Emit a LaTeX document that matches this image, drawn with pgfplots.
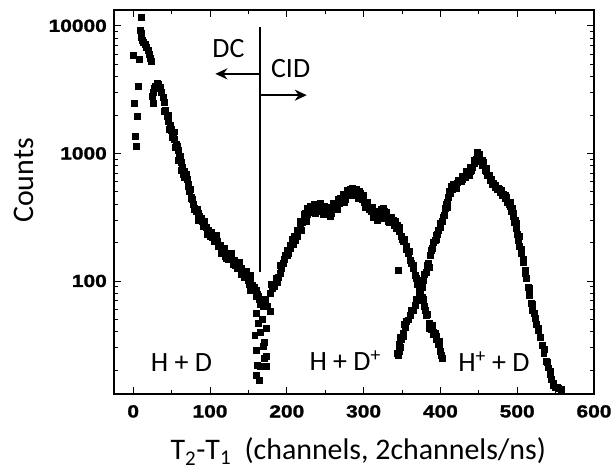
\documentclass[border=0pt]{standalone}
\usepackage{fontspec}
\setmainfont{Carlito}
\newfontfamily\tickfont[FakeStretch=1.2, BoldFeatures={FakeBold=1.5}]{Liberation Sans}
\usepackage{pgfplots}
\pgfplotsset{compat=1.18}
\usetikzlibrary{arrows.meta}

% dissociation (DC) peak and valley
\pgfplotstableread{
x y
0 5890
7.8 5460
6.5 3370
1 2470
5.2 1960
2.2 1370
3.5 1130
26 2470
25 2820
10.4 11750
8.7 9250
10 8710
11 8130
12 7760
13.5 7410
15 7160
17 6850
19 6460
21 6030
22.5 5620
24 5250
26 3020
27.5 3240
29 3390
31 3550
33 3510
35 3310
37 3020
38.5 2750
40 2510
42 2190
44 1950
46 1780
48 1660
50 1550
52 1450
54 1290
56 1175
58 1050
60 933
62 851
64 776
66 724
68 676
70 631
72 575
74 525
76 457
78 398
80 372
82 355
84 339
86 324
88 309
90 295
92 282
95 263
98 251
101 240
104 229
107 214
110 204
113 191
116 178
119 170
122 162
125 158
128 151
131 145
134 138
137 132
140 126
143 120
146 115
149 107
152 100
155 93
158 87
161 79
164 72
166 66
45 1995
49 1514
53 1479
57 1148
61 955
65 692
69 692
73 501
77 437
83 363
87 302
93 295
97 240
103 219
108 229
112 186
118 182
121 151
127 166
133 132
138 141
142 115
147 120
150 102
153 110
157 89
160 85
163 76
41 2140
47 1550
51 1350
55 1120
59 891
63 741
67 646
71 550
75 447
79 363
85 302
91 269
96 234
100 224
106 204
111 186
115 166
120 155
124 148
130 135
135 126
141 112
145 107
151 95
156 85
152 85
160.7 75.5
165 67
160.7 56
163 46.8
158.2 37.8
173.7 42.7
169.3 30.6
160.7 28.8
173.7 25.6
173.7 21.4
165 21.4
160.7 18.4
178 57.5
168 50
166 40
170 25
162 22
164 16.6
171 33
175 63
169 63
172 72
}\dcdata

% H + D+ peak
\pgfplotstableread{
x y
178 80
181 87
184 91
187 98
189 107
191 115
193 126
195 138
197 148
200 158
202 166
205 182
208 195
211 209
214 224
217 263
220 288
223 309
226 331
229 347
232 355
235 363
238 372
241 376
244 372
247 363
250 355
253 351
256 355
259 363
262 380
265 394
268 407
271 427
274 447
277 468
280 490
283 501
286 507
289 501
292 484
295 462
298 437
301 417
304 389
307 367
310 351
313 339
316 331
319 327
322 331
325 339
328 335
331 316
334 302
337 288
340 275
343 261
346 245
349 224
352 204
355 186
358 166
361 145
364 126
367 110
370 95
373 83
376 74
379 63
382 54
385 47
388 42
391 38
394 35
397 32
400 28
402 25
180 95
186 105
192 132
198 160
204 191
210 224
219 251
224 339
233 380
240 355
246 389
252 372
258 339
264 372
270 447
276 437
282 525
288 479
296 490
303 398
309 372
315 316
321 347
327 355
333 288
338 302
344 275
350 214
356 178
362 138
368 105
374 79
380 59
386 43
390 40
395 37
398 34
401 26.3
345 122
200 174
207 214
213 251
218 295
222 331
227 372
231 389
236 398
243 407
249 389
255 380
261 407
267 437
273 479
279 513
285 537
291 525
294 501
299 468
305 417
311 380
317 355
323 363
326 372
330 347
336 316
341 295
347 263
353 214
359 170
365 132
371 98
377 72
383 55
389 45
393 39
399 32
225 295
237 339
248 331
257 324
266 363
275 417
284 468
293 447
302 380
312 316
318 302
324 309
332 295
}\hdpdata

% H+ + D peak
\pgfplotstableread{
x y
344.7 26.4
346 28.2
347.3 30.5
349 34.7
351 39.3
354 43.7
357.7 49.7
361 54.3
364 59.4
367 64.6
369.4 71.1
372 79.4
375.9 90
378 102
381 118
384 138
386.3 160
389 182
392.8 210
396 234
399.3 265
402 295
404.6 330
406.5 372
408.5 417
410.5 452
412.4 490
415.5 525
418.9 566
422 589
425.4 608
428.5 631
431.9 653
435 684
438.4 728
441 776
443.6 841
446 902
448.8 971
450.5 944
452.7 887
455 813
457.9 741
461 676
464.4 617
467.5 575
470.9 546
474 522
477.4 499
480.5 473
483.9 447
487 417
490.5 386
492.5 355
494.4 324
496.5 288
498.3 261
500 234
501.5 209
503 186
504.8 166
507.5 141
510 122
512 105
513.9 90
516 78
517.8 67.5
520 59
523 51.3
525 45.7
526.9 41.4
529.5 36.3
532.1 31.6
534.5 26.9
537.3 23.3
540 20.9
542.5 18.7
544.5 17.0
546.4 15.1
549 14.8
551.6 14.6
554 14.5
556.8 14.1
409 380
414 550
420 537
427 603
433 692
437 676
440 741
445 871
448 1023
456 851
460 724
466 631
472 562
476 525
482 479
486 457
489 398
495 339
397 251
352 37
343.5 27
346 32
348 36
353 46
522 56
528 43
535 29
539 23
543 19.5
547 15.8
385 129
391 200
395 214
400 282
403 316
407 398
411 501
417 575
423 617
429 661
434 724
439 776
444 891
451 977
454 891
459 759
463 676
469 589
475 537
479 513
485 468
491 417
493 372
497 302
499 282
502 224
505 178
508 148
511 115
515 87
519 66
356 48
362 59
368 72
374 87
379 112
383 132
388 174
394 229
}\hpddata

\begin{document}
\begin{tikzpicture}
\begin{axis}[
  scale only axis, width=480bp, height=384bp,
  xmin=-25, xmax=600, ymin=13, ymax=13300,
  ymode=log,
  xtick={0,100,...,600}, minor xtick={50,150,...,550},
  log ticks with fixed point,
  /pgf/number format/1000 sep={},
  /pgf/number format/assume math mode=true,
  tick label style={font=\tickfont\fontsize{17.5}{18}\selectfont\bfseries, inner sep=0pt},
  xticklabel style={anchor=north, yshift=-11bp},
  yticklabel style={anchor=east, xshift=-7bp},
  major tick length=7bp, minor tick length=4bp,
  every tick/.style={black, line width=0.9bp},
  axis line style={line width=1.1bp},
  xlabel={T\textsubscript{2}-T\textsubscript{1}\ \ (channels, 2channels/ns)},
  label style={font=\fontsize{30}{34}\selectfont},
  xlabel style={at={(rel axis cs:0.509,0)}, anchor=base, yshift=-66bp},
  mark size=3pt,
]
\addplot[only marks, mark=square*, black] table {\dcdata};
\addplot[only marks, mark=square*, black] table {\hdpdata};
\addplot[only marks, mark=square*, black] table {\hpddata};

\draw[line width=1.4bp] (axis cs:165,118) -- (axis cs:165,9820);
\draw[line width=2.2bp, -{Stealth[length=12bp,width=11bp]}] (axis cs:165,4200) -- (axis cs:107,4200);
\draw[line width=2.2bp, -{Stealth[length=12bp,width=11bp]}] (axis cs:165,2860) -- (axis cs:226,2860);

\node[anchor=base, font=\fontsize{28}{32}\selectfont] at (axis cs:124,5690) {DC};
\node[anchor=base, font=\fontsize{28}{32}\selectfont] at (axis cs:205,3960) {CID};
\node[anchor=base, font=\fontsize{28}{32}\selectfont] at (axis cs:62.8,19.4) {H + D};
\node[anchor=base, font=\fontsize{28}{32}\selectfont] at (axis cs:276,19.8) {H + D\textsuperscript{+}};
\node[anchor=base, font=\fontsize{28}{32}\selectfont] at (axis cs:469.7,19.4) {H\textsuperscript{+} + D};
\end{axis}
\node[rotate=90, anchor=base, font=\fontsize{30}{34}\selectfont] at ([shift={(-80.7bp,213.5bp)}]current axis.south west) {Counts};
\path ([shift={(-114bp,-76bp)}]current axis.south west) rectangle ([shift={(21bp,10bp)}]current axis.north east);
\end{tikzpicture}
\end{document}
